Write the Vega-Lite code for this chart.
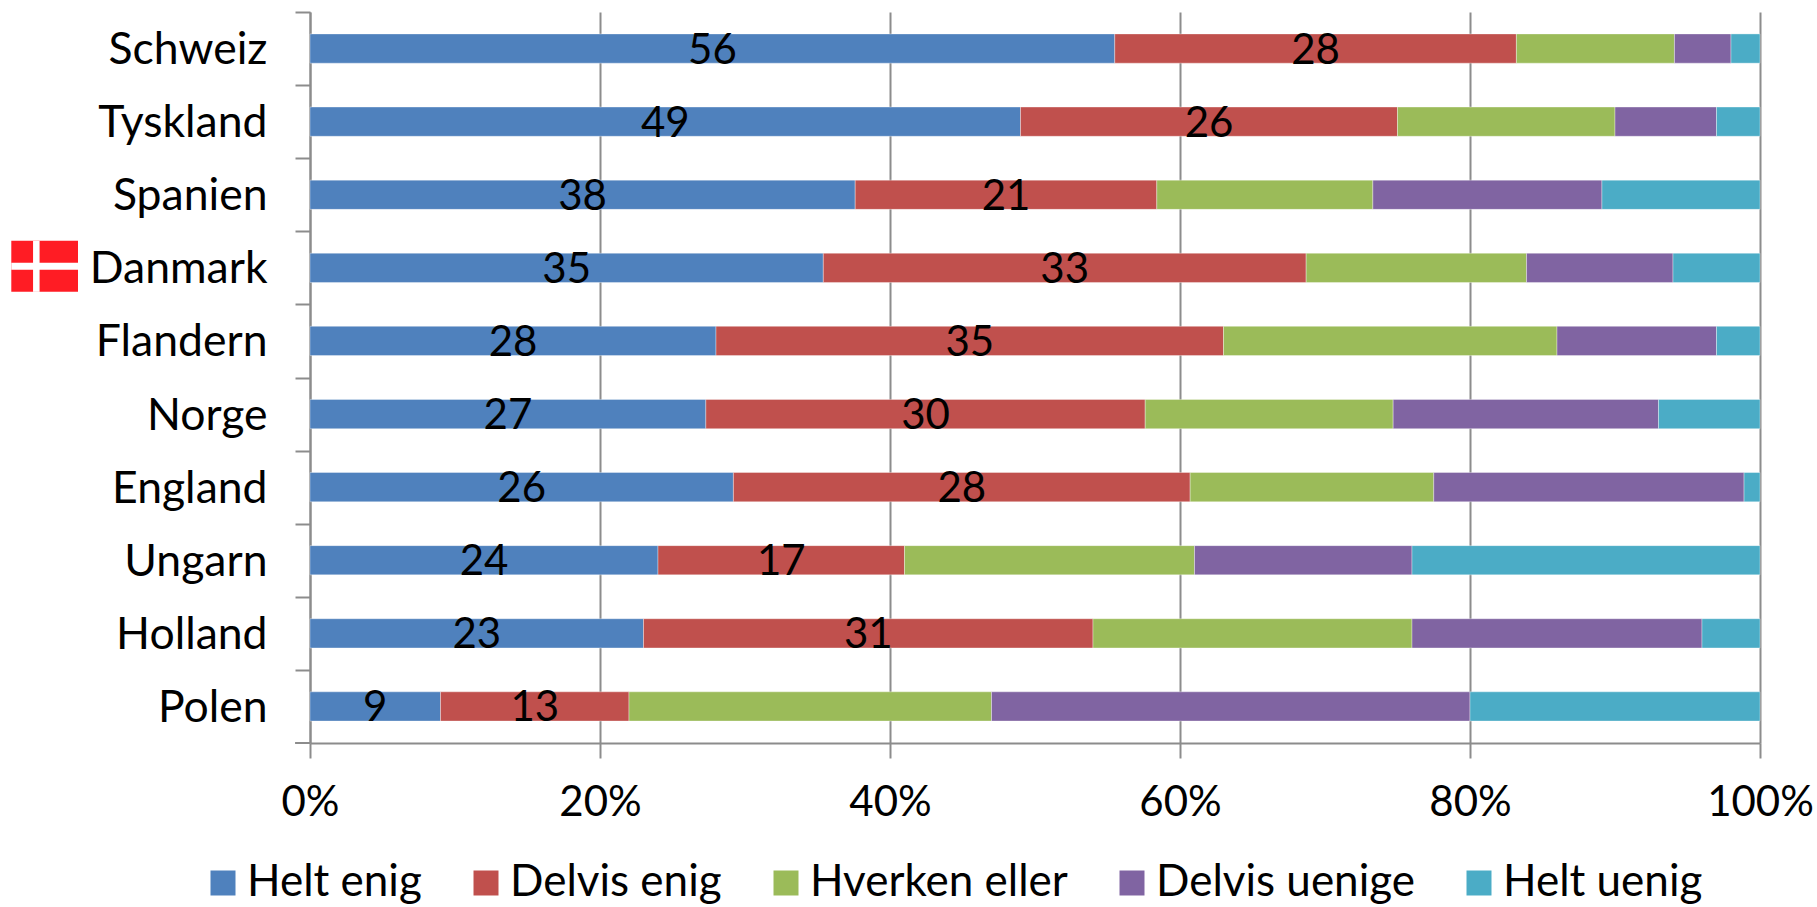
{"$schema":"https://vega.github.io/schema/vega-lite/v6.json","width":1450,"height":731,"autosize":"none","padding":{"left":310,"top":12,"right":57,"bottom":164},"background":"white","config":{"font":"Lato","view":{"stroke":null}},"datasets":{"rows":[
{"country":"Schweiz","series":"Helt enig","order":1,"value":55.5,"label":"56"},{"country":"Schweiz","series":"Delvis enig","order":2,"value":27.7,"label":"28"},{"country":"Schweiz","series":"Hverken eller","order":3,"value":10.9,"label":""},{"country":"Schweiz","series":"Delvis uenige","order":4,"value":3.9,"label":""},{"country":"Schweiz","series":"Helt uenig","order":5,"value":2.0,"label":""},
{"country":"Tyskland","series":"Helt enig","order":1,"value":49,"label":"49"},{"country":"Tyskland","series":"Delvis enig","order":2,"value":26,"label":"26"},{"country":"Tyskland","series":"Hverken eller","order":3,"value":15,"label":""},{"country":"Tyskland","series":"Delvis uenige","order":4,"value":7,"label":""},{"country":"Tyskland","series":"Helt uenig","order":5,"value":3,"label":""},
{"country":"Spanien","series":"Helt enig","order":1,"value":37.6,"label":"38"},{"country":"Spanien","series":"Delvis enig","order":2,"value":20.8,"label":"21"},{"country":"Spanien","series":"Hverken eller","order":3,"value":14.9,"label":""},{"country":"Spanien","series":"Delvis uenige","order":4,"value":15.8,"label":""},{"country":"Spanien","series":"Helt uenig","order":5,"value":10.9,"label":""},
{"country":"Danmark","series":"Helt enig","order":1,"value":35.4,"label":"35"},{"country":"Danmark","series":"Delvis enig","order":2,"value":33.3,"label":"33"},{"country":"Danmark","series":"Hverken eller","order":3,"value":15.2,"label":""},{"country":"Danmark","series":"Delvis uenige","order":4,"value":10.1,"label":""},{"country":"Danmark","series":"Helt uenig","order":5,"value":6,"label":""},
{"country":"Flandern","series":"Helt enig","order":1,"value":28,"label":"28"},{"country":"Flandern","series":"Delvis enig","order":2,"value":35,"label":"35"},{"country":"Flandern","series":"Hverken eller","order":3,"value":23,"label":""},{"country":"Flandern","series":"Delvis uenige","order":4,"value":11,"label":""},{"country":"Flandern","series":"Helt uenig","order":5,"value":3,"label":""},
{"country":"Norge","series":"Helt enig","order":1,"value":27.3,"label":"27"},{"country":"Norge","series":"Delvis enig","order":2,"value":30.3,"label":"30"},{"country":"Norge","series":"Hverken eller","order":3,"value":17.1,"label":""},{"country":"Norge","series":"Delvis uenige","order":4,"value":18.3,"label":""},{"country":"Norge","series":"Helt uenig","order":5,"value":7,"label":""},
{"country":"England","series":"Helt enig","order":1,"value":29.2,"label":"26"},{"country":"England","series":"Delvis enig","order":2,"value":31.5,"label":"28"},{"country":"England","series":"Hverken eller","order":3,"value":16.8,"label":""},{"country":"England","series":"Delvis uenige","order":4,"value":21.4,"label":""},{"country":"England","series":"Helt uenig","order":5,"value":1.1,"label":""},
{"country":"Ungarn","series":"Helt enig","order":1,"value":24,"label":"24"},{"country":"Ungarn","series":"Delvis enig","order":2,"value":17,"label":"17"},{"country":"Ungarn","series":"Hverken eller","order":3,"value":20,"label":""},{"country":"Ungarn","series":"Delvis uenige","order":4,"value":15,"label":""},{"country":"Ungarn","series":"Helt uenig","order":5,"value":24,"label":""},
{"country":"Holland","series":"Helt enig","order":1,"value":23,"label":"23"},{"country":"Holland","series":"Delvis enig","order":2,"value":31,"label":"31"},{"country":"Holland","series":"Hverken eller","order":3,"value":22,"label":""},{"country":"Holland","series":"Delvis uenige","order":4,"value":20,"label":""},{"country":"Holland","series":"Helt uenig","order":5,"value":4,"label":""},
{"country":"Polen","series":"Helt enig","order":1,"value":9,"label":"9"},{"country":"Polen","series":"Delvis enig","order":2,"value":13,"label":"13"},{"country":"Polen","series":"Hverken eller","order":3,"value":25,"label":""},{"country":"Polen","series":"Delvis uenige","order":4,"value":33,"label":""},{"country":"Polen","series":"Helt uenig","order":5,"value":20,"label":""}
]},"data":{"name":"rows"},"encoding":{"y":{"field":"country","type":"nominal","sort":null,"title":null,"scale":{"domain":["Schweiz","Tyskland","Spanien","Danmark","Flandern","Norge","England","Ungarn","Holland","Polen"],"paddingInner":0.6,"paddingOuter":0.3},"axis":{"domainColor":"#8c8c8c","domainWidth":2,"tickColor":"#8c8c8c","tickWidth":2,"tickSize":15,"tickBand":"center","tickOffset":-36.55,"labelOffset":38.5,"labelFontSize":44.5,"labelColor":"#000000","labelPadding":28,"labelFont":"Lato","grid":false}}},"layer":[
{"mark":{"type":"bar","stroke":"#ffffff","strokeOpacity":0.35,"strokeWidth":1},"encoding":{"x":{"field":"value","type":"quantitative","stack":"zero","title":null,"scale":{"domain":[0,100],"nice":false},"axis":{"values":[0,20,40,60,80,100],"labelExpr":"datum.value + '%'","domainColor":"#8c8c8c","domainWidth":2,"tickColor":"#8c8c8c","tickWidth":2,"tickSize":15,"labelFontSize":42,"labelColor":"#000000","labelPadding":24,"labelFont":"Lato","labelFlush":false,"grid":true,"gridColor":"#8c8c8c","gridWidth":2}},"color":{"field":"series","type":"nominal","sort":["Helt enig","Delvis enig","Hverken eller","Delvis uenige","Helt uenig"],"scale":{"domain":["Helt enig","Delvis enig","Hverken eller","Delvis uenige","Helt uenig"],"range":["#4f81bd","#c0504d","#9bbb59","#8064a2","#4bacc6"]},"legend":{"orient":"none","legendX":-109,"legendY":849,"direction":"horizontal","columns":5,"gridAlign":"none","title":null,"symbolType":"square","symbolSize":625,"symbolStrokeWidth":0,"symbolOpacity":1,"labelFontSize":44,"labelColor":"#000000","labelFont":"Lato","labelOffset":2,"columnPadding":42,"labelLimit":400}},"order":{"field":"order","type":"quantitative"}}},
{"mark":{"type":"text","fontSize":42,"color":"#000000","font":"Lato","dy":2},"encoding":{"x":{"field":"value","type":"quantitative","stack":"zero","bandPosition":0.5},"text":{"field":"label","type":"nominal"},"order":{"field":"order","type":"quantitative"}}},
{"data":{"values":[{"flag":"Polen"}]},"mark":{"type":"bar","color":"#8c8c8c","height":2,"yOffset":36.55},"encoding":{"y":{"field":"flag","type":"nominal"},"x":{"datum":-1.03},"x2":{"datum":0}}},
{"data":{"values":[{"flag":"Danmark"}]},"mark":{"type":"bar","color":"#ff1c24","height":51,"yOffset":-1.5},"encoding":{"y":{"field":"flag","type":"nominal"},"x":{"datum":-20.6},"x2":{"datum":-16}}},
{"data":{"values":[{"flag":"Danmark"}]},"mark":{"type":"bar","color":"#ffffff","height":51,"yOffset":-1.5},"encoding":{"y":{"field":"flag","type":"nominal"},"x":{"datum":-19.1},"x2":{"datum":-18.65}}},
{"data":{"values":[{"flag":"Danmark"}]},"mark":{"type":"bar","color":"#ffffff","height":7,"yOffset":-1.5},"encoding":{"y":{"field":"flag","type":"nominal"},"x":{"datum":-20.6},"x2":{"datum":-16}}}
]}
